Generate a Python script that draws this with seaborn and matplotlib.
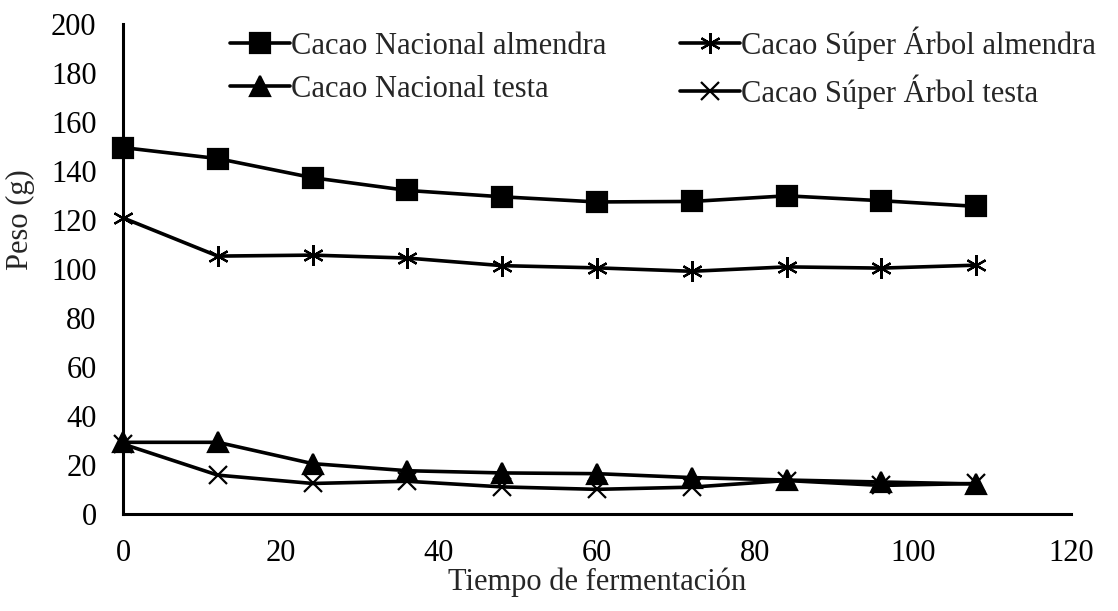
import numpy as np
import pandas as pd
import seaborn as sns
import matplotlib.pyplot as plt

# horas de fermentacion
tiempo = [0, 12, 24, 36, 48, 60, 72, 84, 96, 108]

nacional_almendra = [149.5, 145.0, 137.2, 132.0, 129.4, 127.3, 127.5, 129.8, 127.8, 125.5]
super_almendra = [120.8, 105.2, 105.6, 104.4, 101.3, 100.4, 99.0, 100.8, 100.3, 101.5]
nacional_testa = [29.2, 29.2, 20.5, 17.6, 16.7, 16.4, 14.8, 13.8, 13.0, 12.2]
super_testa = [28.5, 15.8, 12.4, 13.3, 11.0, 10.0, 10.9, 13.6, 11.6, 12.4]

labels = ["Cacao Nacional almendra", "Cacao Nacional testa",
          "Cacao Súper Árbol almendra", "Cacao Súper Árbol testa"]
series = [nacional_almendra, nacional_testa, super_almendra, super_testa]
markers = ["s", "^", (6, 2, 0), "x"]
msizes = [14, 14, 15, 13]

sns.set_style("white")
plt.rcParams['font.family'] = ['Liberation Serif', 'DejaVu Serif']

fig, ax = plt.subplots(figsize=(11.18, 6.11), dpi=100)
fig.subplots_adjust(left=0.110, right=0.958, bottom=0.159, top=0.961)

for lab, vals, mk, ms in zip(labels, series, markers, msizes):
    df = pd.DataFrame({"t": tiempo, "peso": vals})
    sns.lineplot(data=df, x="t", y="peso", ax=ax, color="black", linewidth=2.6,
                 marker=mk, markersize=ms, markeredgecolor="black",
                 markerfacecolor="black", markeredgewidth=1.6, label=lab,
                 clip_on=False, zorder=3)

ax.set_xlim(0, 120)
ax.set_ylim(0, 200)
ax.set_xticks(np.arange(0, 121, 20))
ax.set_yticks(np.arange(0, 201, 20))
ax.tick_params(direction="in", length=7, width=2, labelsize=22, color="black",
               labelcolor="black")
ax.tick_params(axis="y", pad=19)
ax.tick_params(axis="x", pad=18)
for side in ["top", "right"]:
    ax.spines[side].set_visible(False)
for side in ["left", "bottom"]:
    ax.spines[side].set_linewidth(2.2)
    ax.spines[side].set_color("black")
ax.set_xlabel("Tiempo de fermentación", fontsize=22, labelpad=0)
ax.set_ylabel("Peso (g)", fontsize=22)
ax.yaxis.set_label_coords(-0.093, 0.6)

ax.legend(ncol=2, loc="upper left", bbox_to_anchor=(0.113, 0.995), frameon=False,
          fontsize=22, handlelength=1.95, handletextpad=0.05, columnspacing=2.4,
          labelspacing=0.45, borderpad=0, borderaxespad=0, markerscale=1.0)

plt.savefig("out.png", dpi=100)
